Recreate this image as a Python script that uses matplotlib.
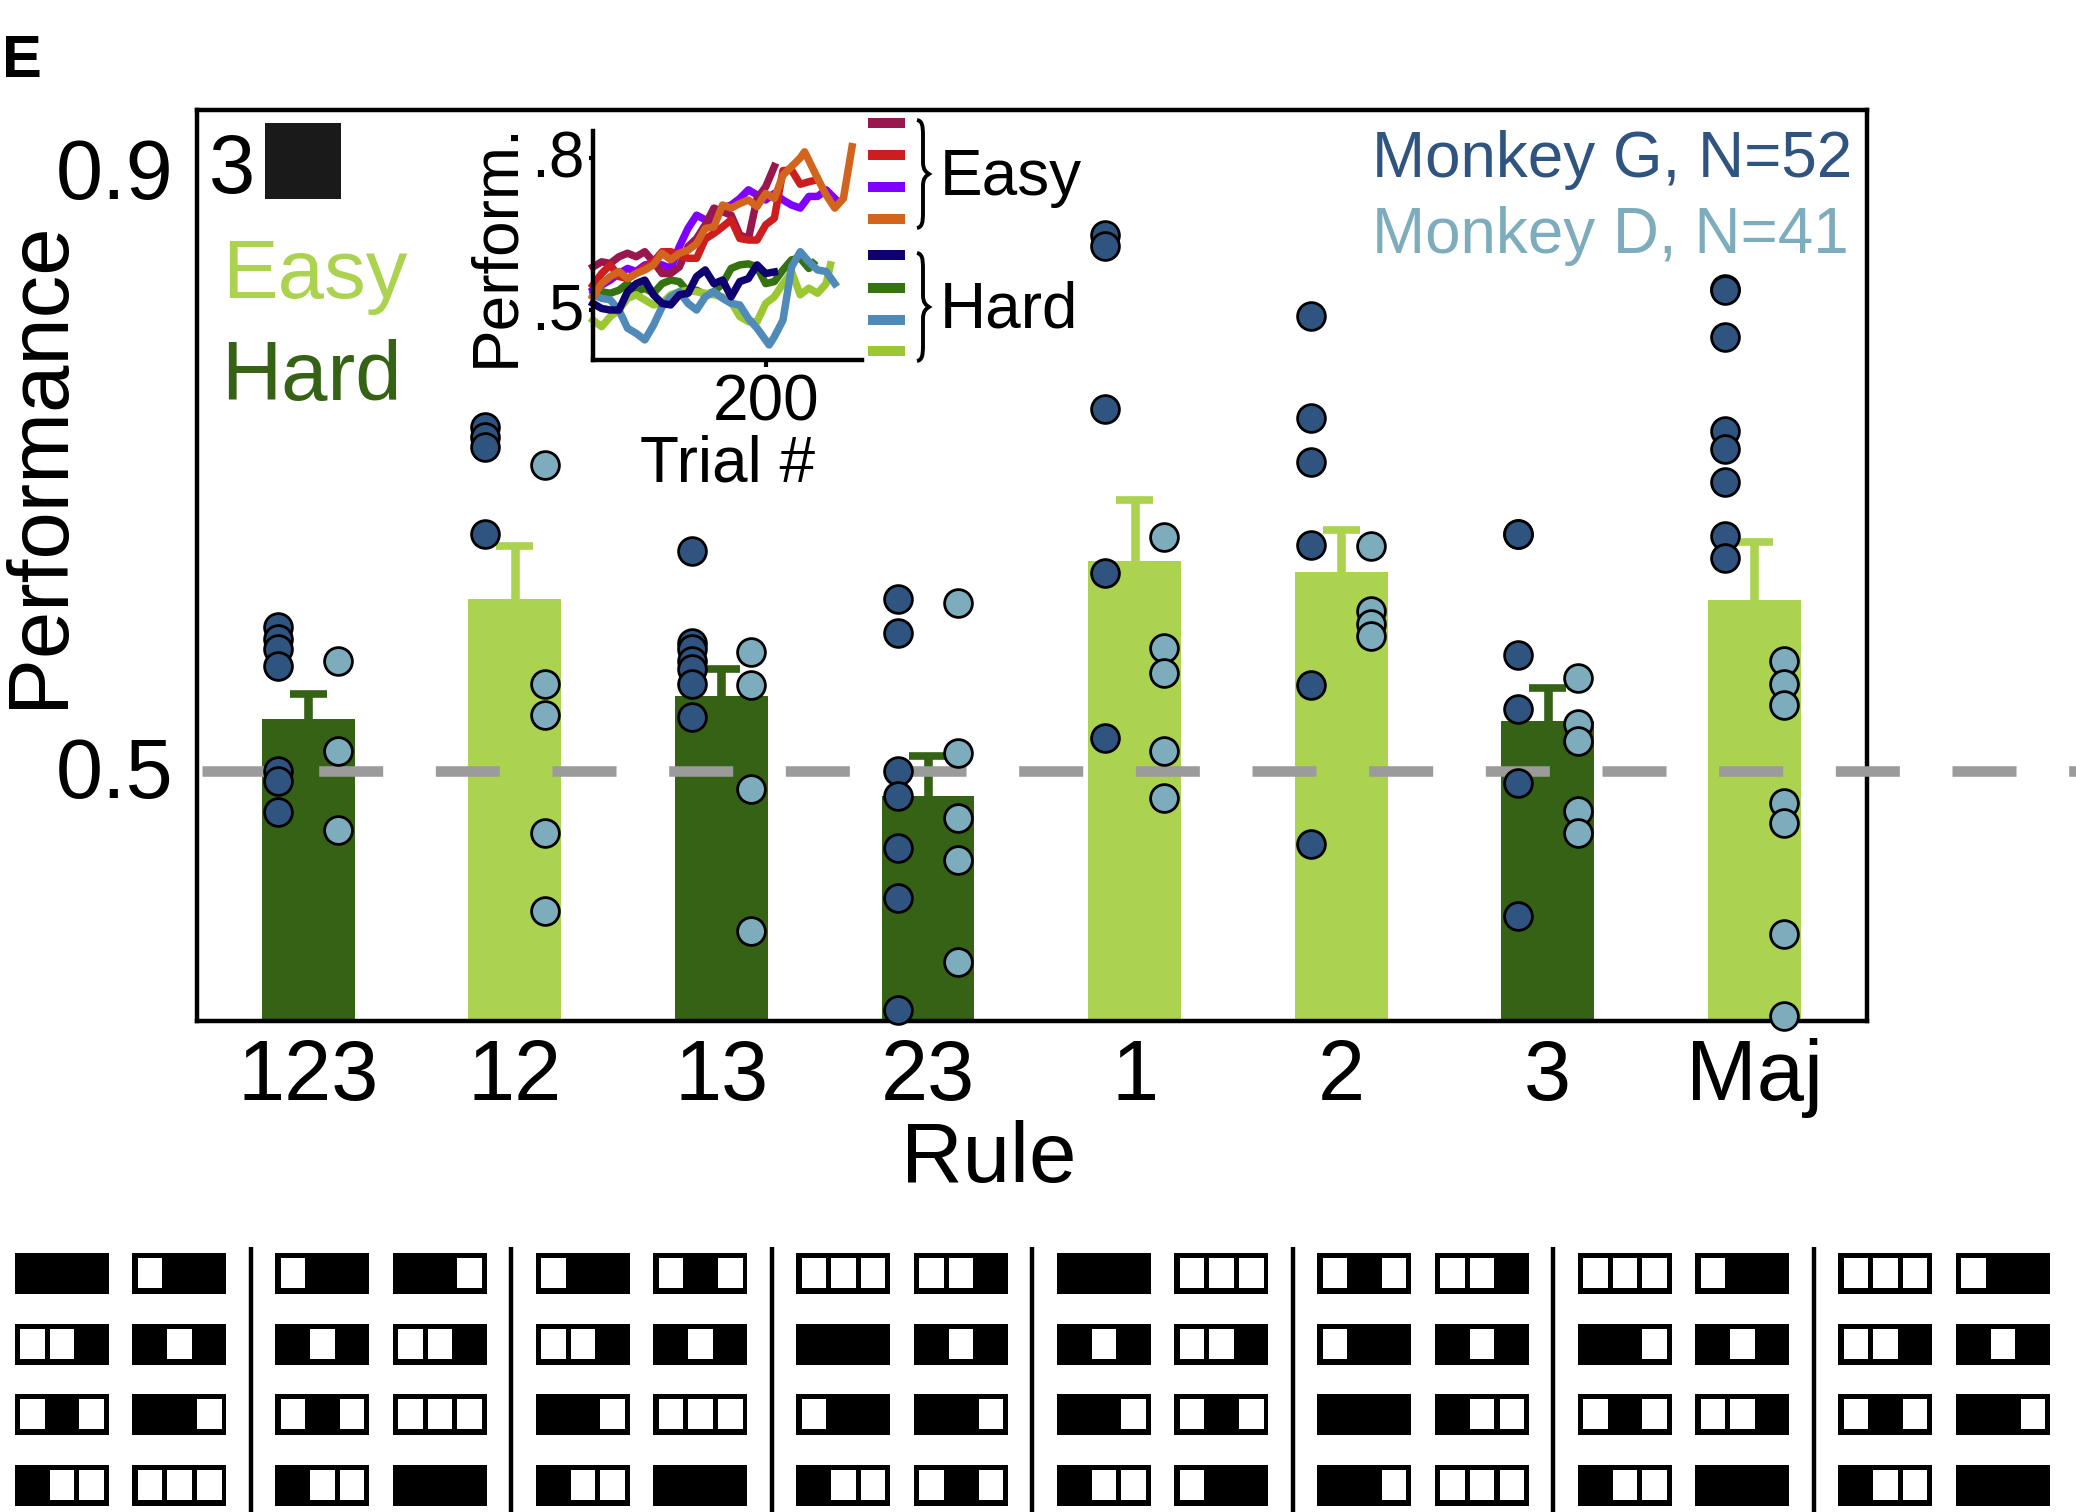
import matplotlib
matplotlib.use("Agg")
import matplotlib.pyplot as plt
from matplotlib.patches import Rectangle, PathPatch
from matplotlib.path import Path
from matplotlib.transforms import ScaledTranslation

plt.rcParams['font.family'] = ['Liberation Sans', 'DejaVu Sans']
plt.rcParams['lines.scale_dashes'] = False

W, H = 2076, 1512

rules = ['123', '12', '13', '23', '1', '2', '3', 'Maj']
bar_vals = [.5345, .615, .55, .483, .64, .633, .533, .614]
err_vals = [.0165, .035, .018, .027, .041, .028, .022, .039]
is_easy = [False, True, False, False, True, True, False, True]

monkey_g = [
    [.596, .588, .581, .570, .5, .493, .472],
    [.730, .723, .716, .658],
    [.647, .585, .581, .573, .568, .558, .536],
    [.615, .592, .5, .483, .448, .415, .340],
    [.858, .851, .742, .632, .522],
    [.804, .736, .706, .651, .557, .451],
    [.658, .658, .577, .541, .492, .403],
    [.822, .821, .790, .727, .715, .693, .657, .642],
]
monkey_d = [
    [.573, .513, .460],
    [.704, .558, .537, .458, .406],
    [.579, .557, .488, .393],
    [.612, .512, .468, .440, .372],
    [.656, .582, .565, .513, .482],
    [.650, .607, .598, .590],
    [.562, .531, .520, .473, .458],
    [.573, .558, .544, .478, .465, .391, .336],
]

t_maroon = [0, 10, 20, 30, 40, 50, 60, 70, 80, 90, 100, 110, 120, 130, 140, 150, 160, 170, 180, 190, 200, 210]
v_maroon = [.585, .595, .592, .605, .612, .605, .615, .595, .572, .572, .585, .625, .641, .668, .701, .694, .687, .648, .641, .72, .743, .783]
t_red = [0, 10, 20, 30, 40, 50, 60, 70, 80, 90, 100, 110, 120, 130, 140, 150, 160, 170, 180, 190, 200, 210, 220, 230, 240, 250, 260]
v_red = [.549, .572, .589, .566, .562, .572, .585, .595, .615, .615, .608, .602, .602, .64, .651, .664, .678, .641, .638, .638, .668, .681, .775, .776, .748, .753, .757]
t_purple = [0, 10, 20, 30, 40, 50, 60, 70, 80, 90, 100, 110, 120, 130, 140, 150, 160, 170, 180, 190, 200, 210, 220, 230, 240, 250, 260, 270, 280]
v_purple = [.539, .549, .559, .572, .582, .576, .589, .592, .589, .582, .625, .661, .687, .678, .674, .701, .707, .72, .737, .727, .717, .73, .717, .707, .701, .724, .724, .737, .72]
t_orange = [0, 10, 20, 30, 40, 50, 60, 70, 80, 90, 100, 110, 120, 130, 140, 150, 160, 170, 180, 190, 200, 210, 220, 230, 240, 245, 250, 260, 270, 280, 290, 300]
v_orange = [.526, .552, .566, .576, .562, .572, .579, .589, .612, .599, .612, .618, .631, .661, .664, .707, .701, .71, .717, .704, .73, .72, .766, .783, .80, .812, .795, .76, .727, .701, .72, .822]
t_navy = [0, 10, 20, 30, 40, 50, 60, 70, 80, 90, 100, 110, 120, 130, 140, 150, 160, 170, 180, 190, 200, 210]
v_navy = [.513, .503, .5, .5, .536, .552, .559, .53, .513, .51, .53, .533, .566, .579, .552, .559, .526, .556, .562, .589, .572, .575]
t_green = [0, 10, 20, 30, 40, 50, 60, 70, 80, 90, 100, 110, 120, 130, 140, 150, 160, 170, 180, 190, 200, 210, 220, 230, 240, 250, 255]
v_green = [.539, .536, .533, .539, .552, .536, .543, .533, .552, .559, .556, .536, .539, .53, .536, .552, .582, .589, .591, .585, .552, .556, .579, .599, .602, .582, .592]
t_blue = [0, 10, 20, 30, 40, 50, 60, 70, 80, 90, 100, 110, 120, 130, 140, 150, 160, 170, 180, 190, 204, 210, 220, 230, 240, 250, 260, 270, 280]
v_blue = [.53, .523, .52, .5, .464, .454, .441, .470, .506, .526, .536, .513, .5, .526, .536, .523, .513, .51, .483, .464, .431, .447, .48, .585, .615, .595, .579, .576, .552]
t_ygreen = [0, 10, 20, 30, 40, 50, 60, 70, 80, 90, 100, 110, 120, 130, 140, 150, 160, 170, 180, 190, 200, 210, 220, 230, 240, 250, 260, 270, 275]
v_ygreen = [.48, .467, .487, .5, .523, .53, .52, .51, .513, .53, .536, .539, .536, .533, .53, .526, .516, .487, .477, .477, .513, .526, .552, .575, .53, .543, .533, .552, .589]

stim_patterns = [
    [['000', '100'], ['110', '010'], ['101', '001'], ['011', '111']],
    [['100', '001'], ['010', '110'], ['101', '111'], ['011', '000']],
    [['100', '101'], ['110', '010'], ['001', '111'], ['011', '000']],
    [['111', '110'], ['000', '010'], ['100', '001'], ['011', '101']],
    [['000', '111'], ['010', '110'], ['001', '101'], ['011', '100']],
    [['101', '110'], ['100', '010'], ['000', '011'], ['001', '111']],
    [['111', '100'], ['001', '010'], ['101', '110'], ['011', '000']],
    [['111', '100'], ['110', '010'], ['101', '001'], ['011', '000']],
]

EASY = '#acd350'
HARD = '#356214'
COL_G = '#2f5480'
COL_D = '#7dacbd'


def axes_px(left, top, right, bottom, **kw):
    return fig.add_axes([left / W, 1 - bottom / H, (right - left) / W, (bottom - top) / H], **kw)


def nudge_up(labels, px):
    off = ScaledTranslation(0, px / 100, fig.dpi_scale_trans)
    for lab in labels:
        lab.set_transform(lab.get_transform() + off)


fig = plt.figure(figsize=(W / 100, H / 100), dpi=100)

# full-figure overlay in pixel units for annotations and stimulus icons
ov = fig.add_axes([0, 0, 1, 1], zorder=0)
ov.set_xlim(0, W)
ov.set_ylim(H, 0)
ov.axis('off')

# main axes
ax = axes_px(197, 110, 1867, 1021, zorder=1)
ax.patch.set_alpha(0)
ax.set_xlim(-0.538, 7.545)
ax.set_ylim(.3326, .9416)
for s in ax.spines.values():
    s.set_linewidth(3.2)
xs = list(range(len(rules)))
for i in xs:
    c = EASY if is_easy[i] else HARD
    top = bar_vals[i] + err_vals[i]
    ax.bar(i, bar_vals[i], width=.449, color=c, zorder=2)
    ax.vlines(i, bar_vals[i], top, color=c, lw=6.2, zorder=2)
    ax.hlines(top, i - .09, i + .09, color=c, lw=5.5, zorder=2)
    ax.plot([i - .144] * len(monkey_g[i]), monkey_g[i], 'o', ms=20, mfc=COL_G, mec='black', mew=2, zorder=4, clip_on=False)
    ax.plot([i + .144] * len(monkey_d[i]), monkey_d[i], 'o', ms=20, mfc=COL_D, mec='black', mew=2, zorder=4, clip_on=False)
ax.plot([-0.516, 8.8], [.5, .5], color='#9b9b9b', lw=7.6, dashes=(46.1, 37.9), clip_on=False, zorder=3)
ax.set_xticks(xs)
ax.set_xticklabels(rules)
ax.set_yticks([.5, .9])
ax.set_yticklabels(['0.5', '0.9'])
ax.tick_params(axis='x', length=0, labelsize=61, pad=12)
ax.tick_params(axis='y', length=0, labelsize=61, pad=17)
nudge_up(ax.get_yticklabels(), 4)

ov.text(989, 1182, 'Rule', fontsize=61.5, ha='center', va='baseline')
ov.text(62, 464, 'Performance', fontsize=61.3, rotation=90, ha='center', va='baseline', rotation_mode='anchor')
ov.text(2, 77, 'E', fontsize=43, fontweight='bold', va='baseline')
ov.text(209, 193, '3', fontsize=60, va='baseline')
ov.add_patch(Rectangle((265, 123), 76, 76, fc='#1a1a1a', ec='none', zorder=3))
ov.text(222, 298, 'Easy', fontsize=60, color=EASY, va='baseline')
ov.text(221, 400, 'Hard', fontsize=60, color=HARD, va='baseline')
ov.text(1372, 177, 'Monkey G, N=52', fontsize=45.9, color=COL_G, va='baseline')
ov.text(1372, 253, 'Monkey D, N=41', fontsize=45.9, color=COL_D, va='baseline')

# inset
ins = axes_px(593, 131, 862, 360, zorder=2)
ins.patch.set_alpha(0)
ins.set_xlim(0, (862 - 593) / .8635)
ins.set_ylim(.5 - 50 / 507, .5 + 179 / 507)
ins.spines['top'].set_visible(False)
ins.spines['right'].set_visible(False)
ins.spines['left'].set_linewidth(3.2)
ins.spines['bottom'].set_linewidth(3.2)
series = [
    (t_green, v_green, '#34730f'),
    (t_ygreen, v_ygreen, '#9bc832'),
    (t_blue, v_blue, '#4f8ab8'),
    (t_navy, v_navy, '#0e0070'),
    (t_purple, v_purple, '#7f00ff'),
    (t_maroon, v_maroon, '#98174f'),
    (t_red, v_red, '#cc1d1f'),
    (t_orange, v_orange, '#d2641e'),
]
for t, v, c in series:
    ins.plot(t, v, color=c, lw=5.4, solid_joinstyle='round', clip_on=False)
ins.set_xticks([200])
ins.set_xticklabels(['200'])
ins.set_yticks([.5, .8])
ins.set_yticklabels(['.5', '.8'])
ins.tick_params(axis='x', length=5, width=3, labelsize=46, pad=5)
ins.tick_params(axis='y', length=3, width=3, labelsize=46, pad=3)
nudge_up(ins.get_yticklabels(), 4)
ov.text(513, 245, 'Perform.', fontsize=46, rotation=90, ha='center', va='baseline', rotation_mode='anchor')
ov.text(728, 482, 'Trial #', fontsize=46, ha='center', va='baseline')

# inset key
key_order = ['#98174f', '#cc1d1f', '#7f00ff', '#d2641e', '#0e0070', '#34730f', '#4f8ab8', '#9bc832']
key_y = [123, 155, 187, 219, 255, 288, 320, 351]
for c, y in zip(key_order, key_y):
    ov.add_patch(Rectangle((868, y - 5.3), 37, 10.6, fc=c, ec='none'))


def brace(x0, xm, x1, y0, y1):
    ymid = (y0 + y1) / 2
    verts = [(x0, y0), (xm - 1, y0 + 1), (xm, y0 + 5), (xm, y0 + 16),
             (xm, ymid - 12),
             (xm, ymid - 4), (x1 - 3, ymid - 2), (x1, ymid),
             (x1 - 3, ymid + 2), (xm, ymid + 4), (xm, ymid + 12),
             (xm, y1 - 16),
             (xm, y1 - 5), (xm - 1, y1 - 1), (x0, y1)]
    codes = [Path.MOVETO, Path.CURVE4, Path.CURVE4, Path.CURVE4,
             Path.LINETO,
             Path.CURVE4, Path.CURVE4, Path.CURVE4,
             Path.CURVE4, Path.CURVE4, Path.CURVE4,
             Path.LINETO,
             Path.CURVE4, Path.CURVE4, Path.CURVE4]
    ov.add_patch(PathPatch(Path(verts, codes), fc='none', ec='black', lw=2.8))


brace(917, 923, 929, 120, 228)
brace(917, 923, 929, 253, 361)
ov.text(940, 195, 'Easy', fontsize=46, va='baseline')
ov.text(940, 328, 'Hard', fontsize=46, va='baseline')

# stimulus icons
group_step = 260.5
col_step = 117.7
row_tops = [1253, 1324, 1394, 1465]
for g, rows in enumerate(stim_patterns):
    gx = 14.7 + g * group_step
    for r, cols in enumerate(rows):
        for c, pat in enumerate(cols):
            x0 = gx + c * col_step
            y0 = row_tops[r]
            ov.add_patch(Rectangle((x0, y0), 94, 41, fc='black', ec='none'))
            for k, ch in enumerate(pat):
                if ch == '1':
                    ov.add_patch(Rectangle((x0 + 5.4 + k * 29.6, y0 + 5.3), 24.5, 30, fc='white', ec='none'))
    if g < len(stim_patterns) - 1:
        ov.plot([gx + 236, gx + 236], [1247, H], color='black', lw=3.2, solid_capstyle='butt')

fig.savefig('out.png', dpi=100)
